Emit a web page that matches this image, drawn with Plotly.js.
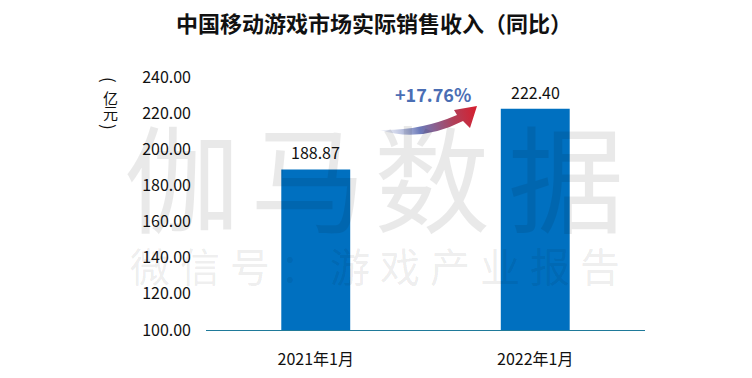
<!DOCTYPE html>
<html>
<head>
<meta charset="utf-8">
<script src="https://cdn.plot.ly/plotly-3.0.1.min.js"></script>
<style>html,body{margin:0;padding:0;background:#fff;}#chart{width:752px;height:378px;}</style>
</head>
<body>
<div id="chart"></div>
<script>
// ---- data ----
const categories = ["2021年1月", "2022年1月"];
const revenue = [188.87, 222.40];
const valueLabels = ["188.87", "222.40"];
const growthLabel = "+17.76%";
const chartTitle = "中国移动游戏市场实际销售收入（同比）";
const yUnitChars = ["(", "亿", "元", ")"];
const watermarkBig = "伽马数据";
const watermarkSmall = "微信号：游戏产业报告";
const yTickVals = [100, 120, 140, 160, 180, 200, 220, 240];

// ---- layout helpers ----
const W = 752, H = 378;
const M = {l: 206, r: 107, t: 77, b: 48};
const PW = W - M.l - M.r, PH = H - M.t - M.b;
const px = x => (x - M.l) / PW;
const py = y => (H - M.b - y) / PH;

const FONT = '"Noto Sans CJK SC", "Microsoft YaHei", sans-serif';

const annotations = [];

// value labels
categories.forEach((c, i) => {
  annotations.push({
    x: c, y: revenue[i], xref: 'x', yref: 'y',
    text: valueLabels[i], showarrow: false,
    yanchor: 'middle', yshift: 17,
    font: {family: FONT, size: 16, color: '#111'}
  });
});

// growth label
annotations.push({
  xref: 'paper', yref: 'paper', x: px(433), y: py(94),
  text: '<b>' + growthLabel + '</b>', showarrow: false,
  xanchor: 'center', yanchor: 'middle',
  font: {family: FONT, size: 18, color: '#4A6EB4'}
});

// y unit (vertical, brackets rotated)
const unitY = [80, 97, 113, 127];
yUnitChars.forEach((ch, i) => {
  const isBracket = (i === 0 || i === yUnitChars.length - 1);
  annotations.push({
    xref: 'paper', yref: 'paper', x: px(110), y: py(unitY[i]),
    text: ch, showarrow: false, xanchor: 'center', yanchor: 'middle',
    textangle: isBracket ? 90 : 0,
    font: {family: FONT, size: isBracket ? 17 : 15, color: '#111'}
  });
});

// watermarks
const bigX = [182, 308, 432, 566];
Array.from(watermarkBig).forEach((ch, i) => {
  annotations.push({
    xref: 'paper', yref: 'paper', x: px(bigX[i]), y: py(173),
    text: ch, showarrow: false, xanchor: 'center', yanchor: 'middle',
    font: {family: FONT, size: 116, color: 'rgba(0,0,0,0.085)'}
  });
});
Array.from(watermarkSmall).forEach((ch, i) => {
  annotations.push({
    xref: 'paper', yref: 'paper', x: px(150 + i * 50), y: py(265),
    text: ch, showarrow: false, xanchor: 'center', yanchor: 'middle',
    font: {family: FONT, size: 40, color: 'rgba(0,0,0,0.085)'}
  });
});

// curved gradient arrow as inline SVG image
const arrowSvg =
  "<svg xmlns='http://www.w3.org/2000/svg' width='115' height='42' viewBox='370 100 115 42'>" +
  "<defs><linearGradient id='g' gradientUnits='userSpaceOnUse' x1='380' y1='130' x2='476' y2='110'>" +
  "<stop offset='0' stop-color='#dfe4f2' stop-opacity='0.4'/>" +
  "<stop offset='0.4' stop-color='#6b79b9'/>" +
  "<stop offset='0.75' stop-color='#b0405a'/>" +
  "<stop offset='1' stop-color='#d42030'/></linearGradient></defs>" +
  "<path d='M380,130 Q420,131 457,115 L454,110 L477,106 L470,128 L463,121 Q420,143 380,130 Z' fill='url(#g)'/>" +
  "</svg>";

const images = [{
  source: 'data:image/svg+xml;charset=utf-8,' + encodeURIComponent(arrowSvg),
  xref: 'paper', yref: 'paper',
  x: px(370), y: py(100), sizex: 115 / PW, sizey: 42 / PH,
  xanchor: 'left', yanchor: 'top', sizing: 'stretch', layer: 'above'
}];

const trace = {
  type: 'bar', x: categories, y: revenue,
  marker: {color: '#0070C0'},
  hoverinfo: 'x+y'
};

const layout = {
  width: W, height: H,
  margin: M,
  paper_bgcolor: '#fff', plot_bgcolor: '#fff',
  bargap: 0.686,
  showlegend: false,
  title: {
    text: '<b>' + chartTitle + '</b>',
    x: 374 / W, xref: 'container', xanchor: 'center',
    y: 1 - 24 / H, yref: 'container', yanchor: 'middle',
    font: {family: FONT, size: 22, color: '#111'}
  },
  xaxis: {
    type: 'category',
    showline: true, linecolor: '#1F7A9A', linewidth: 1.3,
    ticks: '', showgrid: false, zeroline: false,
    ticklabelstandoff: 14,
    tickfont: {family: FONT, size: 16, color: '#111'}
  },
  yaxis: {
    range: [100, 240], tickvals: yTickVals, tickformat: '.2f',
    showline: false, showgrid: false, zeroline: false, ticks: '',
    ticklabelstandoff: 14,
    tickfont: {family: FONT, size: 16, color: '#111'}
  },
  annotations: annotations,
  images: images
};

Plotly.newPlot('chart', [trace], layout, {displayModeBar: false, staticPlot: true});
</script>
</body>
</html>
